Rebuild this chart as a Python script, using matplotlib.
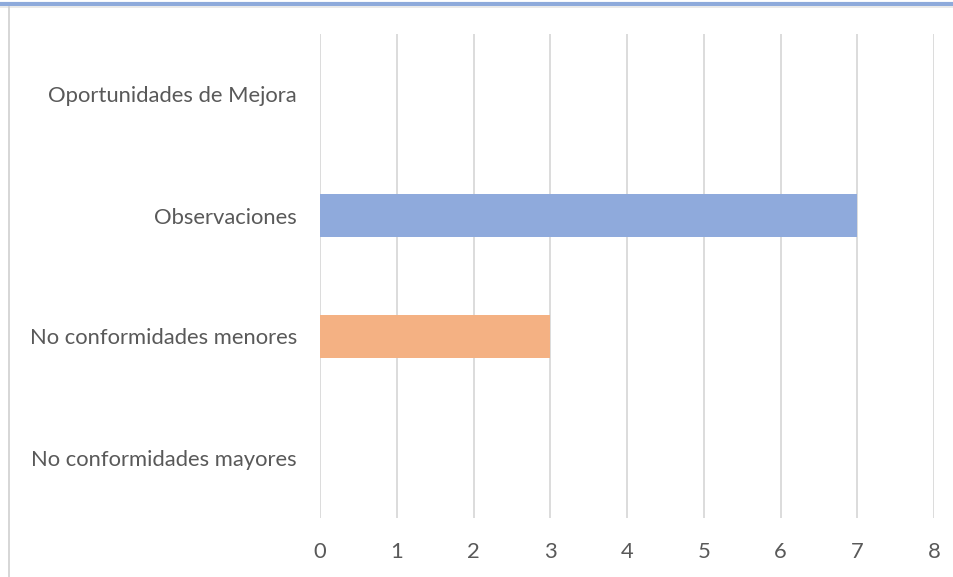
import matplotlib.pyplot as plt
from matplotlib.lines import Line2D

categories = ['No conformidades mayores', 'No conformidades menores',
              'Observaciones', 'Oportunidades de Mejora']
values = [0, 3, 7, 0]
colors = ['#F4B183', '#F4B183', '#8FAADC', '#8FAADC']
x_ticks = [0, 1, 2, 3, 4, 5, 6, 7, 8]

plt.rcParams['font.family'] = ['Lato', 'DejaVu Sans']

fig = plt.figure(figsize=(9.54, 5.77), dpi=100)
ax = fig.add_axes([320 / 954, 1 - 518 / 577, 614 / 954, 484 / 577])

ax.barh(range(len(categories)), values, height=0.36, color=colors, zorder=3)
ax.set_xlim(0, 8)
ax.set_ylim(-0.5, 3.5)
ax.set_xticks(x_ticks)
ax.set_yticks(range(len(categories)))
ax.set_yticklabels(categories)
ax.grid(axis='x', color='#D9D9D9', linewidth=1.3, zorder=0)
ax.tick_params(length=0, labelsize=15.8, labelcolor='#595959')
ax.tick_params(axis='x', pad=17.5)
ax.tick_params(axis='y', pad=16.5)
for s in ax.spines.values():
    s.set_visible(False)

# chart frame edges visible in the crop
fig.add_artist(Line2D([0, 1], [1 - 3.5 / 577, 1 - 3.5 / 577], color='#8EAADB',
                      linewidth=3, transform=fig.transFigure))
fig.add_artist(Line2D([0, 1], [1 - 7 / 577, 1 - 7 / 577], color='#E6E6E6',
                      linewidth=1.2, transform=fig.transFigure))
fig.add_artist(Line2D([9 / 954, 9 / 954], [0, 1 - 7 / 577], color='#D0D0D0',
                      linewidth=1.2, transform=fig.transFigure))

fig.savefig('out.png', dpi=100)
